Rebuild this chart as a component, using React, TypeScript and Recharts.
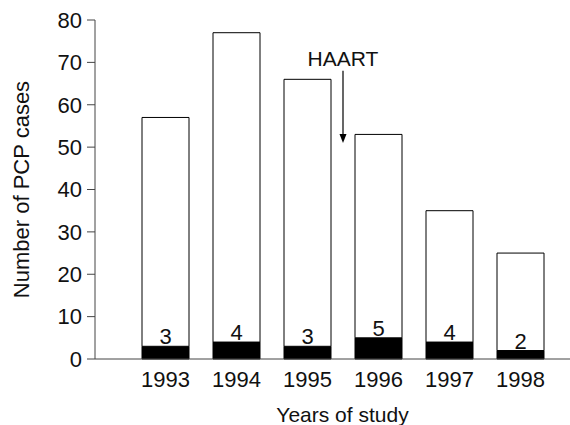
import { BarChart, Bar, XAxis, YAxis, LabelList, ReferenceLine } from 'recharts'

const years = ['1993', '1994', '1995', '1996', '1997', '1998']
const totalCases = [57, 77, 66, 53, 35, 25]
const haartCases = [3, 4, 3, 5, 4, 2]
const yTicks = [0, 10, 20, 30, 40, 50, 60, 70, 80]

const data = years.map((year, i) => ({
  year,
  black: haartCases[i],
  rest: totalCases[i] - haartCases[i],
}))

const font = '"Liberation Sans", Arial, sans-serif'
const axisColor = '#444'

const ArrowShape = (props: any) => {
  const { x1, y1, x2, y2 } = props
  return (
    <g>
      <line x1={x1} y1={y1} x2={x2} y2={y2 - 7} stroke="#000" strokeWidth={1.2} />
      <polygon points={`${x2 - 3.5},${y2 - 9} ${x2 + 3.5},${y2 - 9} ${x2},${y2}`} fill="#000" />
    </g>
  )
}

export default function App() {
  return (
    <div style={{ position: 'absolute', left: 0, top: 0, background: '#fff' }}>
      <BarChart
        width={570}
        height={425}
        data={data}
        margin={{ top: 20, right: 0, left: 0, bottom: 0 }}
        barSize={47}
        style={{ fontFamily: font }}
      >
        <XAxis
          dataKey="year"
          height={66}
          padding={{ left: 35, right: 14 }}
          tickLine={false}
          tickSize={8}
          tickMargin={4}
          stroke={axisColor}
          tick={{ fill: '#111', fontSize: 22 }}
          label={{ value: 'Years of study', position: 'insideBottom', offset: 3, dx: 10, fill: '#111', fontSize: 21 }}
        />
        <YAxis
          width={95}
          domain={[0, 80]}
          ticks={yTicks}
          interval={0}
          tickSize={8}
          tickMargin={5}
          stroke={axisColor}
          tick={{ fill: '#111', fontSize: 22 }}
          label={{
            value: 'Number of PCP cases',
            angle: -90,
            position: 'insideLeft',
            offset: 21,
            fill: '#111',
            fontSize: 22,
            style: { textAnchor: 'middle' },
          }}
        />
        <Bar dataKey="black" stackId="a" fill="#000" stroke="#000" isAnimationActive={false}>
          <LabelList dataKey="black" position="top" offset={2} fill="#111" fontSize={22} />
        </Bar>
        <Bar dataKey="rest" stackId="a" fill="#fff" stroke="#000" strokeWidth={1} isAnimationActive={false} />
        <ReferenceLine
          segment={[
            { x: '1996', y: 68 },
            { x: '1996', y: 51 },
          ]}
          position="start"
          shape={ArrowShape}
          label={{ value: 'HAART', position: 'top', offset: 5, fill: '#111', fontSize: 21 }}
        />
      </BarChart>
    </div>
  )
}
